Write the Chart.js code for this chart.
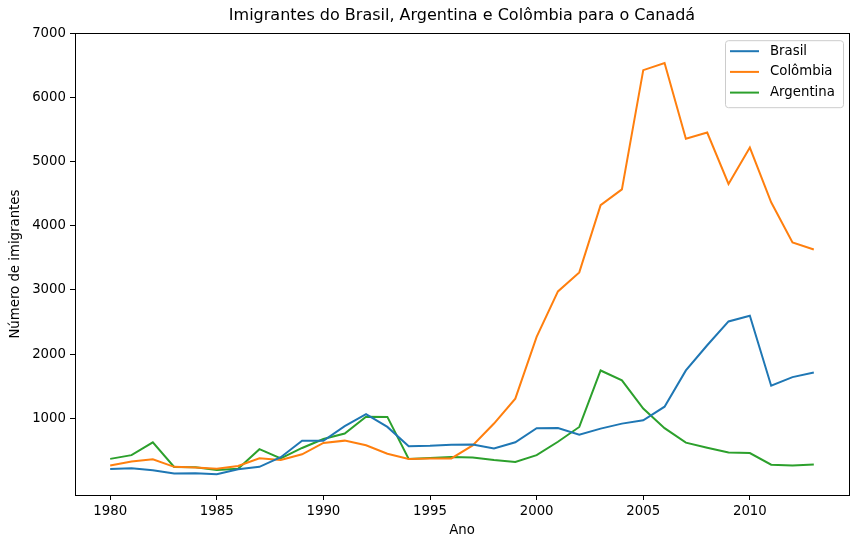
<!DOCTYPE html>
<html>
<head>
<meta charset="utf-8">
<script src="https://cdn.jsdelivr.net/npm/chart.js@4/dist/chart.umd.min.js"></script>
<style>
  html, body { margin: 0; padding: 0; background: #fff; }
  #wrap { width: 859px; height: 548px; }
</style>
</head>
<body>
<div id="wrap"><canvas id="chart" width="859" height="548"></canvas></div>
<script>
// Data
const years = [1980, 1981, 1982, 1983, 1984, 1985, 1986, 1987, 1988, 1989,
  1990, 1991, 1992, 1993, 1994, 1995, 1996, 1997, 1998, 1999,
  2000, 2001, 2002, 2003, 2004, 2005, 2006, 2007, 2008, 2009,
  2010, 2011, 2012, 2013];
const brasil = [211, 220, 192, 139, 145, 130, 205, 244, 394, 650,
  650, 877, 1066, 866, 566, 572, 586, 591, 531, 626,
  845, 847, 745, 839, 917, 969, 1181, 1746, 2138, 2509,
  2598, 1508, 1642, 1714];
const colombia = [266, 326, 360, 244, 235, 214, 257, 376, 352, 439,
  616, 652, 579, 447, 366, 373, 375, 577, 918, 1306,
  2268, 2977, 3273, 4320, 4567, 6424, 6535, 5357, 5452, 4652,
  5218, 4366, 3741, 3631];
const argentina = [368, 426, 626, 241, 237, 196, 213, 519, 374, 538,
  678, 763, 1023, 1022, 366, 380, 396, 391, 349, 318,
  427, 635, 865, 1745, 1591, 1153, 847, 620, 540, 467,
  459, 278, 263, 282];
const xTicks = [1980, 1985, 1990, 1995, 2000, 2005, 2010];
const yTicks = [1000, 2000, 3000, 4000, 5000, 6000, 7000];

const FONT = 'DejaVu Sans';
Chart.defaults.font.family = FONT;
Chart.defaults.color = '#000';

function toPoints(vals) {
  return years.map((y, i) => ({ x: y, y: vals[i] }));
}

function series(label, vals, color) {
  return {
    label: label,
    data: toPoints(vals),
    borderColor: color,
    backgroundColor: color,
    borderWidth: 2,
    pointRadius: 0,
    tension: 0,
    fill: false
  };
}

// frame around the plot area plus a matplotlib-style legend inside it
const framePlugin = {
  id: 'frame',
  afterDraw(chart) {
    const ctx = chart.ctx;
    const a = chart.chartArea;
    ctx.save();
    ctx.strokeStyle = '#000';
    ctx.lineWidth = 1;
    ctx.strokeRect(Math.round(a.left) + 0.5, Math.round(a.top) + 0.5,
      Math.round(a.right - a.left), Math.round(a.bottom - a.top));

    // legend
    const w = 118, h = 67;
    const x0 = a.right - 5.5 - w, y0 = a.top + 7.5;
    ctx.fillStyle = 'rgba(255,255,255,0.8)';
    ctx.strokeStyle = '#cccccc';
    ctx.beginPath();
    ctx.roundRect(x0, y0, w, h, 3);
    ctx.fill();
    ctx.stroke();
    ctx.font = '13.3px ' + FONT;
    ctx.textBaseline = 'middle';
    ctx.textAlign = 'left';
    chart.data.datasets.forEach((ds, i) => {
      const yy = y0 + 10.5 + i * 20.7;
      ctx.strokeStyle = ds.borderColor;
      ctx.lineWidth = 2;
      ctx.beginPath();
      ctx.moveTo(x0 + 4.5, yy);
      ctx.lineTo(x0 + 33.5, yy);
      ctx.stroke();
      ctx.fillStyle = '#000';
      ctx.fillText(ds.label, x0 + 44.5, yy);
    });
    ctx.restore();
  }
};

const ctx = document.getElementById('chart').getContext('2d');
const chart = new Chart(ctx, {
  type: 'line',
  data: {
    datasets: [
      series('Brasil', brasil, '#1f77b4'),
      series('Colômbia', colombia, '#ff7f0e'),
      series('Argentina', argentina, '#2ca02c')
    ]
  },
  options: {
    responsive: false,
    animation: false,
    layout: { padding: { left: 0, right: 10, top: 0, bottom: 0 } },
    plugins: {
      legend: { display: false },
      tooltip: { enabled: false },
      title: {
        display: true,
        text: 'Imigrantes do Brasil, Argentina e Colômbia para o Canadá',
        fullSize: false,
        color: '#000',
        font: { size: 16, weight: 'normal', family: FONT, lineHeight: 1.2 },
        padding: { top: 6, bottom: 8 }
      }
    },
    scales: {
      x: {
        type: 'linear',
        min: 1978.35,
        max: 2014.65,
        afterBuildTicks: s => { s.ticks = xTicks.map(v => ({ value: v })); },
        afterFit: s => { s.height = 53; },
        ticks: {
          callback: v => String(v),
          font: { size: 13.3 },
          padding: 4,
          maxRotation: 0,
          autoSkip: false
        },
        grid: { drawOnChartArea: false, drawTicks: true, tickLength: 5, color: '#000' },
        border: { display: false },
        title: {
          display: true,
          text: 'Ano',
          font: { size: 13.3, lineHeight: 1.2 },
          padding: { top: 0, bottom: 9 }
        }
      },
      y: {
        min: -195,
        max: 7000,
        afterBuildTicks: s => { s.ticks = yTicks.map(v => ({ value: v })); },
        afterFit: s => { s.width = 75; },
        ticks: {
          callback: v => String(v),
          font: { size: 13.3 },
          padding: 4,
          autoSkip: false
        },
        grid: { drawOnChartArea: false, drawTicks: true, tickLength: 5, color: '#000' },
        border: { display: false },
        title: {
          display: true,
          text: 'Número de imigrantes',
          font: { size: 13.3, lineHeight: 1.2 },
          padding: { top: 8, bottom: 0 }
        }
      }
    }
  },
  plugins: [framePlugin]
});
</script>
</body>
</html>
